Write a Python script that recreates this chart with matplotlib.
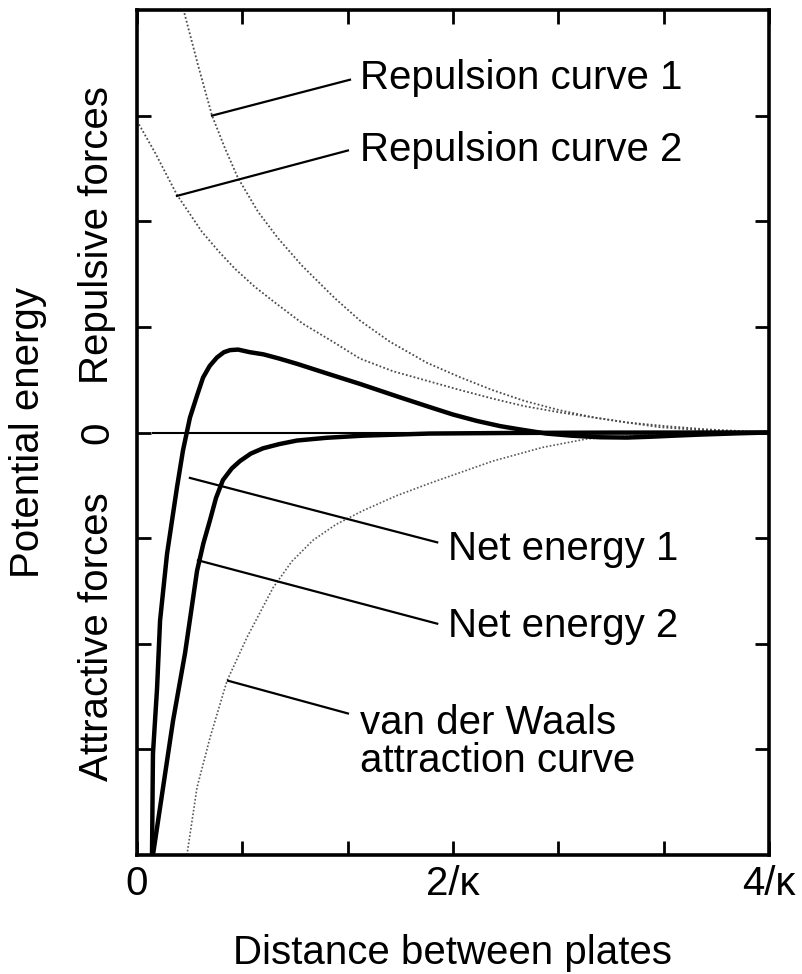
import matplotlib
matplotlib.use("Agg")
import matplotlib.pyplot as plt

plt.rcParams['font.family'] = ['Liberation Sans', 'DejaVu Sans']

# curves (x in units of 1/kappa, y in tick units)
rep1_x = [0.30, 0.386, 0.475, 0.557, 0.639, 0.766, 0.892, 1.044, 1.253, 1.411,
          1.60, 1.835, 2.05, 2.253, 2.45, 2.677, 2.90, 3.10, 3.31, 3.55, 3.80, 4.0]
rep1_y = [3.97, 3.48, 3.00, 2.69, 2.41, 2.09, 1.84, 1.58, 1.27, 1.06,
          0.86, 0.66, 0.52, 0.40, 0.30, 0.21, 0.14, 0.095, 0.05, 0.025, 0.01, 0.0]

rep2_x = [0.0, 0.114, 0.253, 0.411, 0.520, 0.620, 0.745, 0.873, 1.05, 1.25, 1.411, 1.62,
          1.835, 2.05, 2.253, 2.45, 2.677, 2.90, 3.10, 3.35, 3.60, 3.80, 4.0]
rep2_y = [2.95, 2.65, 2.25, 1.90, 1.71, 1.55, 1.38, 1.23, 1.03, 0.85, 0.70, 0.58,
          0.49, 0.40, 0.32, 0.25, 0.19, 0.14, 0.095, 0.06, 0.03, 0.015, 0.0]

net1_x = [0.095, 0.101, 0.127, 0.146, 0.19, 0.253, 0.291, 0.335, 0.38, 0.418, 0.46,
          0.506, 0.55, 0.589, 0.64, 0.715, 0.80, 0.90, 1.013, 1.20, 1.411, 1.65,
          1.854, 2.0, 2.15, 2.30, 2.42, 2.59, 2.75, 2.93, 3.10, 3.25, 3.40, 3.56, 3.80, 4.0]
net1_y = [-4.0, -3.04, -2.42, -1.78, -1.15, -0.52, -0.17, 0.14, 0.35, 0.52, 0.63,
          0.71, 0.76, 0.78, 0.785, 0.76, 0.74, 0.70, 0.65, 0.56, 0.46, 0.34,
          0.24, 0.17, 0.11, 0.06, 0.03, -0.01, -0.03, -0.045, -0.048, -0.04, -0.03, -0.02, -0.008, 0.0]

net2_x = [0.101, 0.165, 0.228, 0.304, 0.38, 0.42, 0.462, 0.50, 0.544, 0.60, 0.652,
          0.72, 0.797, 0.90, 1.013, 1.20, 1.43, 1.85, 2.4, 3.0, 4.0]
net2_y = [-4.0, -3.36, -2.73, -2.09, -1.31, -1.05, -0.83, -0.62, -0.45, -0.34, -0.27,
          -0.20, -0.15, -0.11, -0.076, -0.05, -0.03, -0.01, -0.004, -0.001, 0.0]

vdw_x = [0.316, 0.38, 0.462, 0.57, 0.696, 0.861, 0.98, 1.114, 1.26, 1.43, 1.64, 1.854, 2.253,
         2.57, 2.85, 3.25, 3.60, 4.0]
vdw_y = [-4.0, -3.36, -2.89, -2.35, -1.94, -1.47, -1.22, -1.02, -0.87, -0.74, -0.60, -0.48, -0.27,
         -0.14, -0.06, -0.02, -0.006, 0.0]

# callouts: label, leader start, leader end, text anchor
labels = ['Repulsion curve 1', 'Repulsion curve 2', 'Net energy 1', 'Net energy 2']
lead_from = [(0.475, 3.0), (0.253, 2.24), (0.335, -0.43), (0.386, -1.21)]
lead_to = [(1.348, 3.34), (1.335, 2.67), (1.90, -1.04), (1.90, -1.81)]
label_at = [(1.411, 3.355), (1.411, 2.67), (1.968, -1.10), (1.968, -1.83)]

vdw_lead = [(0.576, -2.35), (1.335, -2.66)]
vdw_lines = ['van der Waals', 'attraction curve']
vdw_at = [(1.411, -2.75), (1.411, -3.11)]

tick_pos = [0, 2/3, 4/3, 2, 8/3, 10/3, 4]
tick_lab = ['0', '', '', '2/κ', '', '', '4/κ']

fig = plt.figure(figsize=(8.03, 9.74), dpi=100)
ax = fig.add_axes([137/803, 1 - 855/974, 632/803, 845/974])

dot = (0, (1, 1.2))
ax.plot(rep1_x, rep1_y, color='0.3', lw=1.3, ls=dot)
ax.plot(rep2_x, rep2_y, color='0.3', lw=1.3, ls=dot)
ax.plot(vdw_x, vdw_y, color='0.35', lw=1.2, ls=dot)
ax.plot(net1_x, net1_y, color='black', lw=3.2, solid_capstyle='round')
ax.plot(net2_x, net2_y, color='black', lw=3.2, solid_capstyle='round')
ax.axhline(0, xmin=0.025, color='black', lw=1.5)

for (x0, y0), (x1, y1) in zip(lead_from, lead_to):
    ax.plot([x0, x1], [y0, y1], color='black', lw=1.6)
ax.plot([vdw_lead[0][0], vdw_lead[1][0]], [vdw_lead[0][1], vdw_lead[1][1]], color='black', lw=1.6)

for txt, (tx, ty) in zip(labels, label_at):
    ax.text(tx, ty, txt, fontsize=29, ha='left', va='center')
for txt, (tx, ty) in zip(vdw_lines, vdw_at):
    ax.text(tx, ty, txt, fontsize=29, ha='left', va='center')

ax.set_xlim(0, 4)
ax.set_ylim(-4, 4)
ax.set_xticks(tick_pos)
ax.set_xticklabels(tick_lab, fontsize=29)
ax.set_yticks([-3, -2, -1, 0, 1, 2, 3])
ax.set_yticklabels([])
ax.tick_params(direction='in', length=10, width=2, top=True, right=True, pad=7)
for s in ax.spines.values():
    s.set_linewidth(2.6)

ax.set_xlabel('Distance between plates', fontsize=29)
ax.xaxis.set_label_coords(0.5, -0.094)
ax.set_ylabel('Potential energy', fontsize=29)
ax.yaxis.set_label_coords(-0.142, 0.5)

yt = ax.get_yaxis_transform()
ax.text(-0.063, 1.87, 'Repulsive forces', transform=yt, rotation=90, fontsize=29, ha='center', va='center')
ax.text(-0.063, 0, '0', transform=yt, rotation=90, fontsize=29, ha='center', va='center')
ax.text(-0.063, -1.93, 'Attractive forces', transform=yt, rotation=90, fontsize=29, ha='center', va='center')

fig.savefig('out.png', dpi=100)
